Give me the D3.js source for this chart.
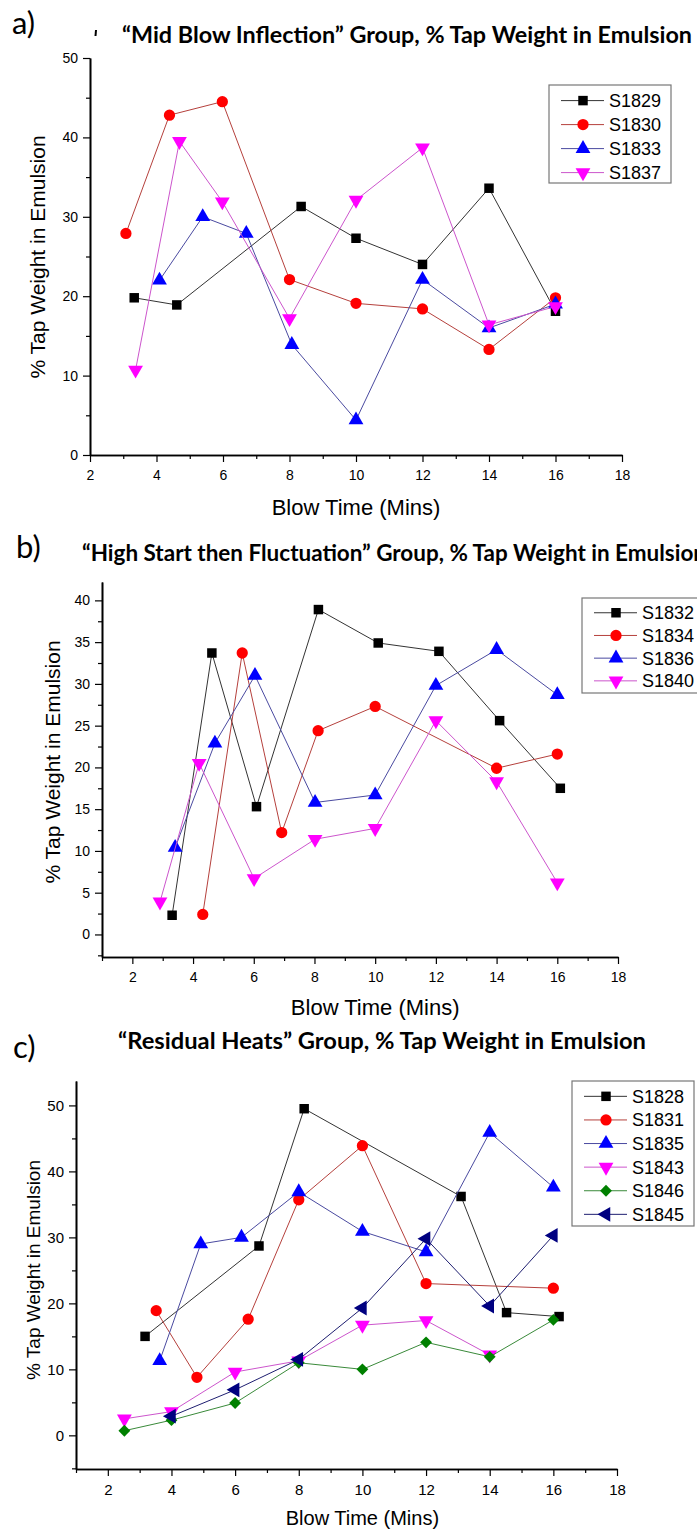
<!DOCTYPE html>
<html>
<head>
<meta charset="utf-8">
<script src="https://cdn.jsdelivr.net/npm/d3@7"></script>
<style>
  body { margin: 0; background: #fff; }
  svg text { font-family: 'Liberation Sans', Arial, sans-serif; fill: #000; }
</style>
</head>
<body>
<div id="chart"></div>
<script>
// ---------- data ----------
const xLabelTicks = [2, 4, 6, 8, 10, 12, 14, 16, 18];

// a) "Mid Blow Inflection" group
const s1829X = [3.33, 4.61, 8.35, 10, 12, 14, 16];
const s1829Y = [19.8, 18.9, 31.3, 27.3, 24.0, 33.6, 18.1];
const s1830X = [3.08, 4.39, 5.98, 8, 10, 12, 14, 16];
const s1830Y = [27.9, 42.8, 44.5, 22.1, 19.1, 18.4, 13.3, 19.8];
const s1833X = [4.09, 5.39, 6.7, 8.07, 10, 12, 14, 16];
const s1833Y = [22.0, 30.0, 27.9, 13.9, 4.4, 22.1, 16.0, 19.0];
const s1837X = [3.37, 4.69, 5.98, 8, 10, 12, 14, 16];
const s1837Y = [10.7, 39.5, 31.9, 17.2, 32.1, 38.7, 16.4, 18.7];

// b) "High Start then Fluctuation" group
const s1832X = [3.31, 4.62, 6.09, 8.13, 10.1, 12.1, 14.1, 16.1];
const s1832Y = [2.3, 33.7, 15.3, 38.9, 34.9, 33.9, 25.6, 17.5];
const s1834X = [4.32, 5.62, 6.92, 8.12, 10, 14, 16];
const s1834Y = [2.4, 33.7, 12.2, 24.4, 27.3, 19.9, 21.6];
const s1836X = [3.41, 4.72, 6.04, 8.02, 10, 12, 14, 16];
const s1836Y = [10.4, 22.9, 31.0, 15.8, 16.7, 29.8, 34.1, 28.7];
const s1840X = [2.91, 4.2, 6.01, 8.02, 10, 12, 14, 16];
const s1840Y = [3.9, 20.5, 6.7, 11.4, 12.7, 25.6, 18.3, 6.2];

// c) "Residual Heats" group
const s1828X = [3.17, 6.75, 8.17, 13.1, 14.53, 16.18];
const s1828Y = [15.0, 28.7, 49.5, 36.2, 18.6, 18.0];
const s1831X = [3.52, 4.8, 6.41, 8, 10, 12, 16];
const s1831Y = [18.9, 8.8, 17.6, 35.7, 43.9, 23.0, 22.3];
const s1835X = [3.63, 4.92, 6.2, 8, 10, 12, 14, 16];
const s1835Y = [11.3, 29.0, 30.0, 36.9, 30.9, 27.8, 45.9, 37.6];
const s1843X = [2.52, 4, 6, 8, 10, 12, 14];
const s1843Y = [2.5, 3.6, 9.6, 11.3, 16.7, 17.4, 12.2];
const s1846X = [2.52, 4, 6, 8, 10, 12, 14, 16];
const s1846Y = [0.7, 2.3, 4.9, 11.0, 10.0, 14.1, 11.9, 17.5];
const s1845X = [4, 6, 8, 10, 12, 14, 16];
const s1845Y = [2.9, 6.9, 11.5, 19.3, 29.8, 19.6, 30.3];

// marker/line styles
const styles = {
  square: { shape: d3.symbolSquare, size: 90, rot: 0, fill: '#000000', line: '#333333' },
  circle: { shape: d3.symbolCircle, size: 100, rot: 0, fill: '#ff0000', line: '#b5403c' },
  up: { shape: d3.symbolTriangle, size: 95, rot: 0, fill: '#0000ff', line: '#4a4aa0' },
  down: { shape: d3.symbolTriangle, size: 95, rot: 180, fill: '#ff00ff', line: '#cc55cc' },
  diamond: { shape: d3.symbolSquare, size: 70, rot: 45, fill: '#008000', line: '#3a8a3a' },
  left: { shape: d3.symbolTriangle, size: 95, rot: -90, fill: '#000080', line: '#1e1e70' },
};

const mk = (name, xs, ys, style) => ({
  name,
  style,
  points: xs.map((x, i) => ({ x, y: ys[i] })),
});

const panels = [
  {
    tag: 'a)', tagX: 12, tagY: 34,
    title: '\u201CMid Blow Inflection\u201D Group, % Tap Weight in Emulsion',
    titleX: 122, titleY: 43, titleW: 570,
    left: 90, right: 622, top: 58, bottom: 455,
    xDomain: [2, 18], yDomain: [0, 50],
    yMajor: d3.range(0, 51, 10), yMinor: d3.range(5, 50, 10),
    xMinor: d3.range(3, 18, 2),
    yTitleX: 45, yTitleY: 257, yTitleSize: 21,
    xTitleY: 515, xTitleSize: 22, tickSize: 14,
    legend: { x: 549, y: 85, w: 122, h: 98, step: 24, size: 18 },
    series: [
      mk('S1829', s1829X, s1829Y, 'square'),
      mk('S1830', s1830X, s1830Y, 'circle'),
      mk('S1833', s1833X, s1833Y, 'up'),
      mk('S1837', s1837X, s1837Y, 'down'),
    ],
  },
  {
    tag: 'b)', tagX: 16, tagY: 558,
    title: '\u201CHigh Start then Fluctuation\u201D Group, % Tap Weight in Emulsion',
    titleX: 82, titleY: 561, titleW: 624,
    left: 102, right: 618, top: 582, bottom: 957,
    xDomain: [1, 18], yDomain: [-2.7, 42.2],
    yMajor: d3.range(0, 41, 5), yMinor: d3.range(-2.5, 42, 5),
    xMinor: d3.range(1, 18, 2),
    yTitleX: 60, yTitleY: 762, yTitleSize: 21,
    xTitleY: 1015, xTitleSize: 22, tickSize: 14,
    legend: { x: 582, y: 598, w: 130, h: 95, step: 22.7, size: 18 },
    series: [
      mk('S1832', s1832X, s1832Y, 'square'),
      mk('S1834', s1834X, s1834Y, 'circle'),
      mk('S1836', s1836X, s1836Y, 'up'),
      mk('S1840', s1840X, s1840Y, 'down'),
    ],
  },
  {
    tag: 'c)', tagX: 13, tagY: 1058,
    title: '\u201CResidual Heats\u201D Group, % Tap Weight in Emulsion',
    titleX: 118, titleY: 1049, titleW: 528,
    left: 76, right: 617, top: 1081, bottom: 1469,
    xDomain: [1, 18], yDomain: [-5.1, 53.7],
    yMajor: d3.range(0, 51, 10), yMinor: d3.range(-5, 54, 10),
    xMinor: d3.range(1, 18, 2),
    yTitleX: 40, yTitleY: 1270, yTitleSize: 19,
    xTitleY: 1525, xTitleSize: 20, tickSize: 15,
    legend: { x: 572, y: 1081, w: 122, h: 145, step: 23.6, size: 18 },
    series: [
      mk('S1828', s1828X, s1828Y, 'square'),
      mk('S1831', s1831X, s1831Y, 'circle'),
      mk('S1835', s1835X, s1835Y, 'up'),
      mk('S1843', s1843X, s1843Y, 'down'),
      mk('S1846', s1846X, s1846Y, 'diamond'),
      mk('S1845', s1845X, s1845Y, 'left'),
    ],
  },
];

// ---------- drawing ----------
const svg = d3
  .select('#chart')
  .append('svg')
  .attr('width', 697)
  .attr('height', 1530);

svg.append('rect').attr('width', 697).attr('height', 1530).attr('fill', '#fff');

const symbolPath = (st) => d3.symbol().type(st.shape).size(st.size)();

function drawPanel(p) {
  const g = svg.append('g');

  const x = d3.scaleLinear().domain(p.xDomain).range([p.left, p.right]);
  const y = d3.scaleLinear().domain(p.yDomain).range([p.bottom, p.top]);

  // panel tag and title
  g.append('text')
    .attr('x', p.tagX)
    .attr('y', p.tagY)
    .style('font-family', 'Lato, "Open Sans", sans-serif')
    .style('font-size', '31px')
    .text(p.tag);

  g.append('text')
    .attr('x', p.titleX)
    .attr('y', p.titleY)
    .attr('textLength', p.titleW)
    .attr('lengthAdjust', 'spacingAndGlyphs')
    .style('font-family', 'Lato, "Open Sans", sans-serif')
    .style('font-weight', 'bold')
    .style('font-size', '22px')
    .text(p.title);

  // axes: major labelled ticks + minor ticks
  const xAxis = d3.axisBottom(x).tickValues(xLabelTicks).tickSize(7).tickSizeOuter(0).tickPadding(8);
  const xMinorAxis = d3.axisBottom(x).tickValues(p.xMinor).tickSize(4).tickSizeOuter(0).tickFormat('');
  const yAxis = d3.axisLeft(y).tickValues(p.yMajor).tickSize(7).tickSizeOuter(0).tickPadding(5);
  const yMinorAxis = d3.axisLeft(y).tickValues(p.yMinor).tickSize(4).tickSizeOuter(0).tickFormat('');

  [
    [xMinorAxis, 'x'], [xAxis, 'x'], [yMinorAxis, 'y'], [yAxis, 'y'],
  ].forEach(([ax, dir]) => {
    const a = g
      .append('g')
      .attr('transform', dir === 'x' ? `translate(0,${p.bottom})` : `translate(${p.left},0)`)
      .call(ax);
    a.select('.domain').attr('stroke', '#000').attr('stroke-width', 1.6);
    a.selectAll('.tick line').attr('stroke', '#000').attr('stroke-width', 1.2);
    a.selectAll('.tick text')
      .style('font-family', '"Liberation Sans", Arial, sans-serif')
      .style('font-size', p.tickSize + 'px')
      .attr('fill', '#000');
  });

  // axis titles
  g.append('text')
    .attr('x', (x(2) + x(18)) / 2)
    .attr('y', p.xTitleY)
    .attr('text-anchor', 'middle')
    .style('font-size', p.xTitleSize + 'px')
    .text('Blow Time (Mins)');

  g.append('text')
    .attr('transform', `translate(${p.yTitleX},${p.yTitleY}) rotate(-90)`)
    .attr('text-anchor', 'middle')
    .style('font-size', p.yTitleSize + 'px')
    .text('% Tap Weight in Emulsion');

  // series: line then markers
  const line = d3.line().x((d) => x(d.x)).y((d) => y(d.y));
  p.series.forEach((s) => {
    const st = styles[s.style];
    g.append('path')
      .datum(s.points)
      .attr('d', line)
      .attr('fill', 'none')
      .attr('stroke', st.line)
      .attr('stroke-width', 1);

    g.selectAll(null)
      .data(s.points)
      .enter()
      .append('path')
      .attr('d', symbolPath(st))
      .attr('transform', (d) => `translate(${x(d.x)},${y(d.y)}) rotate(${st.rot})`)
      .attr('fill', st.fill);
  });

  // legend
  const L = p.legend;
  const leg = g.append('g').attr('transform', `translate(${L.x},${L.y})`);
  leg.append('rect')
    .attr('width', L.w)
    .attr('height', L.h)
    .attr('fill', '#fff')
    .attr('stroke', '#777')
    .attr('stroke-width', 1.2);

  const rows = leg
    .selectAll('.row')
    .data(p.series)
    .enter()
    .append('g')
    .attr('transform', (d, i) => `translate(12,${L.step * 0.65 + i * L.step})`);

  rows.append('line')
    .attr('x1', 0)
    .attr('x2', 43)
    .attr('stroke', (d) => styles[d.style].line)
    .attr('stroke-width', 1);

  rows.append('path')
    .attr('d', (d) => symbolPath(styles[d.style]))
    .attr('transform', (d) => `translate(22,0) rotate(${styles[d.style].rot})`)
    .attr('fill', (d) => styles[d.style].fill);

  rows.append('text')
    .attr('x', 48)
    .attr('dy', '0.36em')
    .style('font-size', L.size + 'px')
    .text((d) => d.name);
}

panels.forEach(drawPanel);

// small stray mark next to the first title
svg.append('line')
  .attr('x1', 96).attr('x2', 95.5)
  .attr('y1', 30).attr('y2', 36)
  .attr('stroke', '#000')
  .attr('stroke-width', 2);
</script>
</body>
</html>
